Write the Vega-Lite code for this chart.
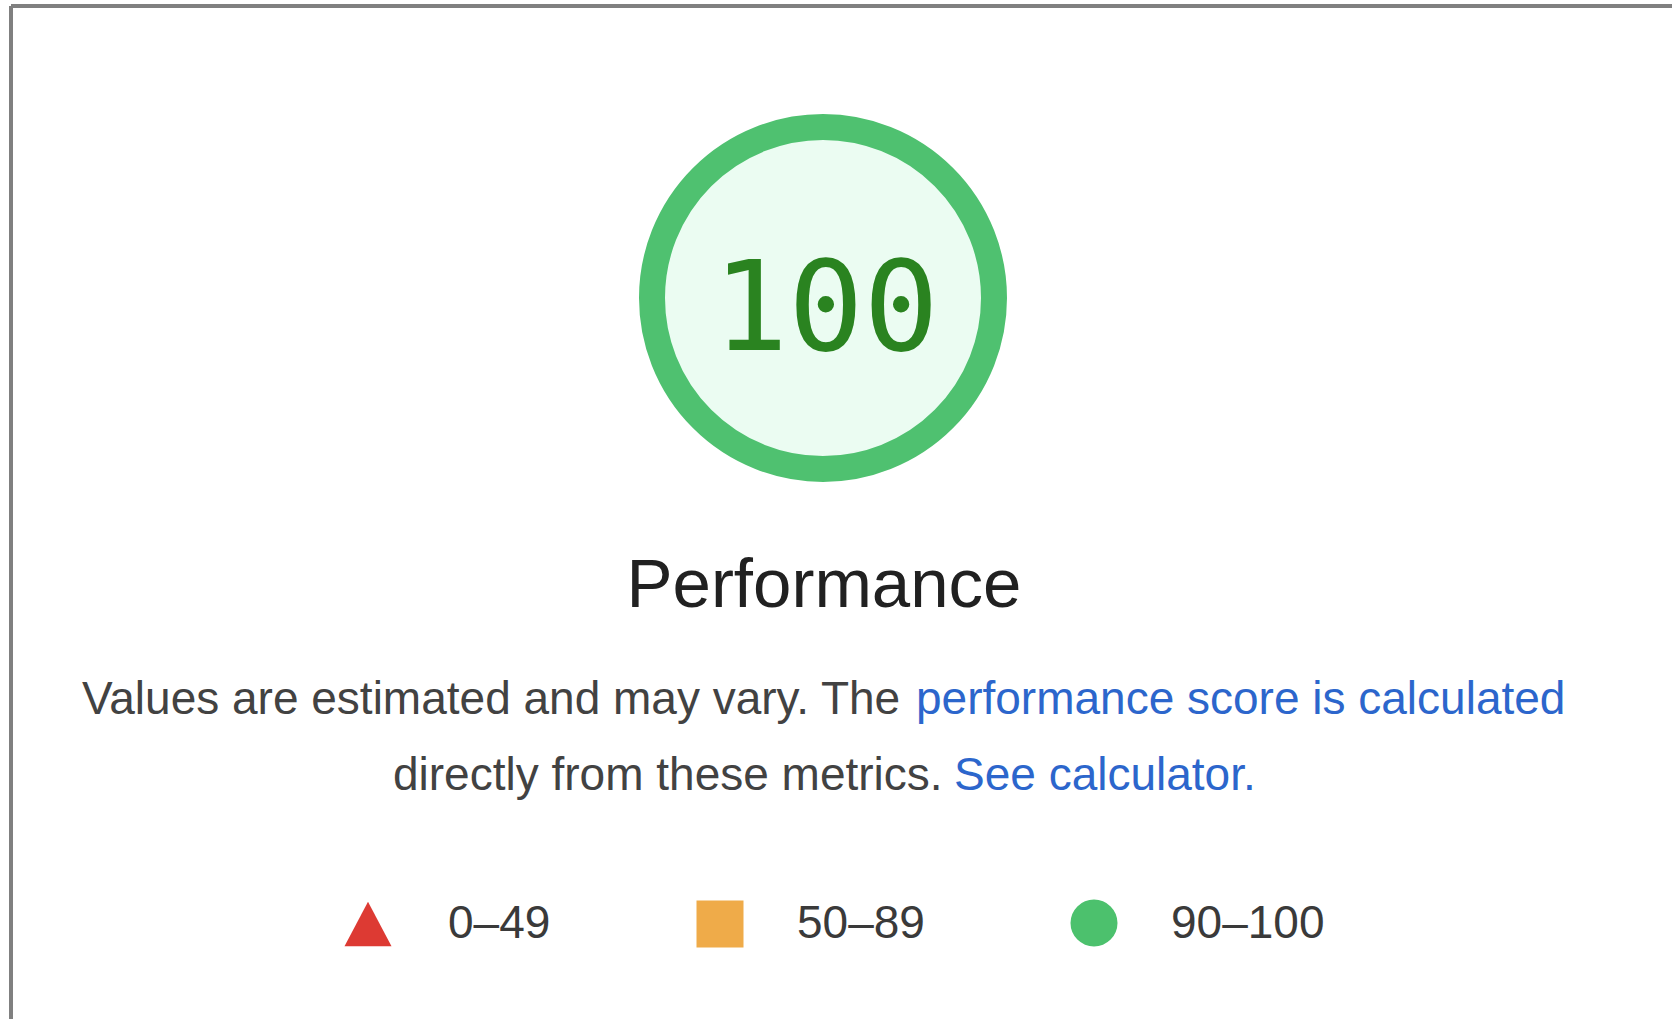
{
  "$schema": "https://vega.github.io/schema/vega-lite/v6.json",
  "width": 1672,
  "height": 1019,
  "padding": 0,
  "autosize": {"type": "none"},
  "background": "#ffffff",
  "config": {"view": {"stroke": null}},
  "encoding": {
    "x": {"field": "x", "type": "quantitative", "scale": {"domain": [0, 1672], "nice": false, "zero": false}, "axis": null},
    "y": {"field": "y", "type": "quantitative", "scale": {"domain": [0, 1019], "nice": false, "zero": false, "reverse": true}, "axis": null}
  },
  "resolve": {"scale": {"color": "independent", "shape": "independent"}},
  "layer": [
    {
      "data": {"values": [
        {"x": 11, "y": 6, "x2": 1672, "y2": 6},
        {"x": 11, "y": 6, "x2": 11, "y2": 1019}
      ]},
      "mark": {"type": "rule", "color": "#808080", "strokeWidth": 4},
      "encoding": {"x2": {"field": "x2"}, "y2": {"field": "y2"}}
    },
    {
      "data": {"values": [{"x": 823, "y": 298, "score": 100}]},
      "mark": {"type": "point", "shape": "circle", "size": 116964, "fill": "#ebfcf2", "stroke": "#4fc170", "strokeWidth": 26, "opacity": 1, "fillOpacity": 1, "strokeOpacity": 1}
    },
    {
      "data": {"values": [{"x": 826, "y": 350, "score": "100"}]},
      "mark": {"type": "text", "font": "DejaVu Sans Mono", "fontSize": 125, "color": "#2a8320", "align": "center", "baseline": "alphabetic"},
      "encoding": {"text": {"field": "score"}}
    },
    {
      "data": {"values": [{"x": 824, "y": 607, "t": "Performance"}]},
      "mark": {"type": "text", "font": "Liberation Sans", "fontSize": 69, "color": "#212121", "align": "center", "baseline": "alphabetic"},
      "encoding": {"text": {"field": "t"}}
    },
    {
      "data": {"values": [
        {"x": 82, "y": 714, "t": "Values are estimated and may vary. The ", "kind": "plain"},
        {"x": 916, "y": 714, "t": "performance score is calculated", "kind": "link"},
        {"x": 393, "y": 790, "t": "directly from these metrics. ", "kind": "plain"},
        {"x": 954, "y": 790, "t": "See calculator.", "kind": "link"}
      ]},
      "mark": {"type": "text", "font": "Liberation Sans", "fontSize": 46, "align": "left", "baseline": "alphabetic"},
      "encoding": {
        "text": {"field": "t"},
        "color": {"field": "kind", "type": "nominal", "scale": {"domain": ["plain", "link"], "range": ["#424242", "#2c66cc"]}, "legend": null}
      }
    },
    {
      "data": {"values": [
        {"x": 368, "y": 924, "band": "0–49"},
        {"x": 720, "y": 924, "band": "50–89"},
        {"x": 1094, "y": 923, "band": "90–100"}
      ]},
      "mark": {"type": "point", "filled": true, "opacity": 1, "size": 2209},
      "encoding": {
        "shape": {"field": "band", "type": "nominal", "scale": {"domain": ["0–49", "50–89", "90–100"], "range": ["M-1,0.95L1,0.95L0,-0.95Z", "square", "circle"]}, "legend": null},
        "color": {"field": "band", "type": "nominal", "scale": {"domain": ["0–49", "50–89", "90–100"], "range": ["#dd3a33", "#efab49", "#4cc16d"]}, "legend": null}
      }
    },
    {
      "data": {"values": [
        {"x": 448, "y": 938, "band": "0–49"},
        {"x": 797, "y": 938, "band": "50–89"},
        {"x": 1171, "y": 938, "band": "90–100"}
      ]},
      "mark": {"type": "text", "font": "Liberation Sans", "fontSize": 46, "color": "#3a3a3a", "align": "left", "baseline": "alphabetic"},
      "encoding": {"text": {"field": "band"}}
    }
  ]
}
